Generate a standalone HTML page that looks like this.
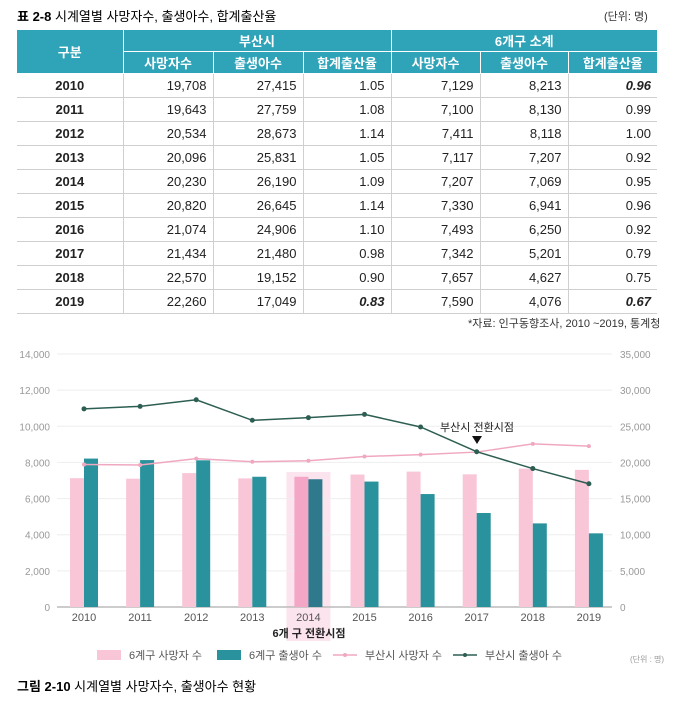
<!DOCTYPE html>
<html><head><meta charset="utf-8">
<style>
body{margin:0;width:685px;height:712px;background:#fff;font-family:"Liberation Sans","Noto Sans CJK KR",sans-serif;position:relative;overflow:hidden}
.t{position:absolute;white-space:nowrap}
table{position:absolute;left:17px;top:30px;border-collapse:collapse;font-size:13px;color:#222}
td,th{padding:0 6px;height:23px;border-bottom:1px solid #cfcfcf;border-left:1px solid #cfcfcf}
th{background:#2fa3b8;color:#fff;font-weight:bold;border-left:1px solid #fff;border-bottom:1px solid #fff;height:21px;font-size:13px}
td{text-align:right}
td.y{text-align:center;font-weight:bold;border-left:none}
td.b{font-weight:bold;font-style:italic}
</style></head><body>
<div class="t" style="left:17px;top:6px;font-size:13px"><b>표 2-8</b> 시계열별 사망자수, 출생아수, 합계출산율</div>
<div class="t" style="left:604px;top:8px;font-size:11px;color:#333">(단위: 명)</div>
<table>
<colgroup><col style="width:106px"><col style="width:90px"><col style="width:90px"><col style="width:88px"><col style="width:89px"><col style="width:88px"><col style="width:89px"></colgroup>
<tr><th rowspan="2" style="border-left:none">구분</th><th colspan="3">부산시</th><th colspan="3">6개구 소계</th></tr>
<tr><th>사망자수</th><th>출생아수</th><th>합계출산율</th><th>사망자수</th><th>출생아수</th><th>합계출산율</th></tr>
<tbody id="tb"></tbody>
</table>
<div class="t" style="left:468px;top:315px;font-size:11px;color:#333">*자료: 인구동향조사, 2010 ~2019, 통계청</div>
<svg id="ch" width="685" height="712" style="position:absolute;left:0;top:0"></svg>
<div class="t" style="left:17px;top:676px;font-size:13px"><b>그림 2-10</b> 시계열별 사망자수, 출생아수 현황</div>
<script>
const years=["2010","2011","2012","2013","2014","2015","2016","2017","2018","2019"];
const busanDeaths=[19708,19643,20534,20096,20230,20820,21074,21434,22570,22260];
const busanBirths=[27415,27759,28673,25831,26190,26645,24906,21480,19152,17049];
const busanTfr=["1.05","1.08","1.14","1.05","1.09","1.14","1.10","0.98","0.90","0.83"];
const sixDeaths=[7129,7100,7411,7117,7207,7330,7493,7342,7657,7590];
const sixBirths=[8213,8130,8118,7207,7069,6941,6250,5201,4627,4076];
const sixTfr=["0.96","0.99","1.00","0.92","0.95","0.96","0.92","0.79","0.75","0.67"];
const leftTicks=[0,2000,4000,6000,8000,10000,12000,14000];
const rightTicks=[0,5000,10000,15000,20000,25000,30000,35000];
const f=n=>n.toLocaleString('en-US');
const tb=document.getElementById('tb');
years.forEach((y,i)=>{const tr=document.createElement('tr');


const bt=i==9?' class="b"':'', st=(i==0||i==9)?' class="b"':'';
tr.innerHTML=`<td class="y">${y}</td><td>${f(busanDeaths[i])}</td><td>${f(busanBirths[i])}</td><td${bt}>${busanTfr[i]}</td><td>${f(sixDeaths[i])}</td><td>${f(sixBirths[i])}</td><td${st}>${sixTfr[i]}</td>`;
tb.appendChild(tr);});
const svg=document.getElementById('ch'),NS='http://www.w3.org/2000/svg';
function el(t,a,txt){const e=document.createElementNS(NS,t);for(const k in a)e.setAttribute(k,a[k]);if(txt!=null)e.textContent=txt;svg.appendChild(e);return e;}
const x0=57,x1=612,yb=607,yt=354;
const yL=v=>yb-(v/14000)*(yb-yt), yR=v=>yb-(v/35000)*(yb-yt), xC=i=>84+i*56.1;
let e=el('rect',{x:xC(4)-22,y:472,width:44,height:169,fill:'#fce4ee'});

leftTicks.forEach((v,i)=>{let g=el('line',{x1:x0,x2:x1,y1:yL(v),y2:yL(v),stroke:i==0?'#bbb':'#eee','stroke-width':i==0?1.5:1});

let t=el('text',{x:50,y:yL(v)+4,'text-anchor':'end','font-size':10,fill:'#999'},f(v));

let r=el('text',{x:620,y:yR(rightTicks[i])+4,'font-size':10,fill:'#999'},f(rightTicks[i]));
});
years.forEach((y,i)=>{const c=xC(i),hl=i==4;
let b=el('rect',{x:c-14,y:yL(sixDeaths[i]),width:14,height:yb-yL(sixDeaths[i]),fill:hl?'#f4a6c6':'#f9c6d8'});

let b2=el('rect',{x:c,y:yL(sixBirths[i]),width:14,height:yb-yL(sixBirths[i]),fill:hl?'#2e7a8c':'#2a929c'});

let t=el('text',{x:c,y:621,'text-anchor':'middle','font-size':11,fill:'#555'},y);
});
function line(arr,col,name,r){let p=el('polyline',{points:arr.map((v,i)=>xC(i)+','+yR(v)).join(' '),fill:'none',stroke:col,'stroke-width':1.5});

arr.forEach((v,i)=>{let c=el('circle',{cx:xC(i),cy:yR(v),r:r,fill:col});});}
line(busanDeaths,'#f0a8c0','line-busan-deaths',2);
line(busanBirths,'#2d5e52','line-busan-births',2.5);
let a=el('text',{x:477,y:431,'text-anchor':'middle','font-size':11,fill:'#222'},'부산시 전환시점');

let tr=el('path',{d:'M472 436 L482 436 L477 444 Z',fill:'#111'});
let a2=el('text',{x:309,y:637,'text-anchor':'middle','font-size':11,'font-weight':'bold',fill:'#222'},'6개 구 전환시점');

const lg=[['rect','#f9c6d8','6계구 사망자 수',97],['rect','#2a929c','6계구 출생아 수',217],['line','#f0a8c0','부산시 사망자 수',333],['line','#2d5e52','부산시 출생아 수',453]];
lg.forEach(l=>{let m;if(l[0]=='rect')m=el('rect',{x:l[3],y:650,width:24,height:10,fill:l[1]});
else{m=el('line',{x1:l[3],x2:l[3]+24,y1:655,y2:655,stroke:l[1],'stroke-width':1.5});el('circle',{cx:l[3]+12,cy:655,r:2,fill:l[1]});}

let t=el('text',{x:l[3]+32,y:659,'font-size':11,fill:'#555'},l[2]);});
let u=el('text',{x:630,y:662,'font-size':8,fill:'#999'},'(단위 : 명)');
</script>
</body></html>
